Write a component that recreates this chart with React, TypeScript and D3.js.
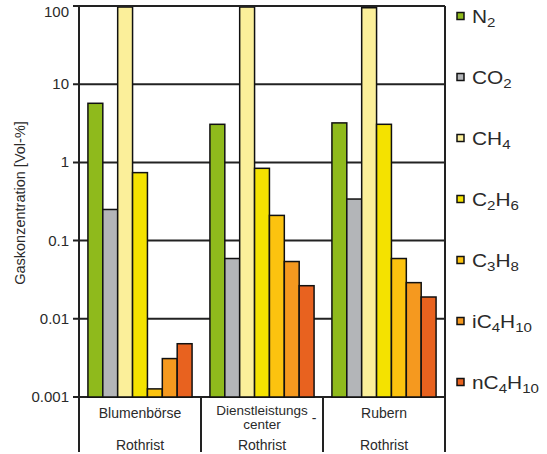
import * as d3 from 'd3';

const sites = ['Blumenbörse', 'Dienstleistungscenter', 'Rubern'];
const series = ['N2', 'CO2', 'CH4', 'C2H6', 'C3H8', 'iC4H10', 'nC4H10'];
const colors = ['#8fba1c', '#b3b5b8', '#fbef9a', '#f4e200', '#fcc30f', '#f5991f', '#e8621f'];

// values per site in the order of `series` (Vol-%)
const blumenboerse = [5.7, 0.25, 97, 0.74, 0.00127, 0.0031, 0.0048];
const dienstleistung = [3.07, 0.059, 97, 0.84, 0.21, 0.054, 0.0265];
const rubern = [3.2, 0.34, 95, 3.07, 0.059, 0.029, 0.019];
const values = [blumenboerse, dienstleistung, rubern];

const yTicks = [0.001, 0.01, 0.1, 1, 10, 100];
const tickLabels = ['0.001', '0.01', '0.1', '1', '10', '100'];

// legend labels: alternating normal text and subscript
const legendParts = [
  ['N', '2'],
  ['CO', '2'],
  ['CH', '4'],
  ['C', '2', 'H', '6'],
  ['C', '3', 'H', '8'],
  ['iC', '4', 'H', '10'],
  ['nC', '4', 'H', '10'],
];

const App = () => {
  const left = 79, right = 445, top = 6, bottom = 397;
  const x = d3.scaleBand().domain(sites).range([left, right]).padding(0);
  const xi = d3.scaleBand().domain(series).range([0, x.bandwidth()]).paddingInner(0).paddingOuter(0.6);
  const y = d3.scaleLog().domain([0.001, 100]).range([bottom, top]);
  const ink = '#222';
  const txt = '#2a2a2a';
  const font = 'Liberation Sans, Arial, sans-serif';

  return (
    <svg width={547} height={454} style={{ position: 'absolute', left: 0, top: 0 }} fontFamily={font}>
      <rect width={547} height={454} fill="#fff" />
      {/* grid */}
      {yTicks.map((t) => (
        <line key={t} x1={left - 6} x2={right} y1={y(t)} y2={y(t)} stroke={ink} strokeWidth={2} />
      ))}
      {/* bars */}
      {sites.map((s, gi) =>
        series.map((k, si) => {
          const v = values[gi][si];
          return (
            <rect
              key={s + k}
              x={(x(s) as number) + (xi(k) as number)}
              y={y(v)}
              width={xi.bandwidth()}
              height={bottom - y(v)}
              fill={colors[si]}
              stroke="#111"
              strokeWidth={1.5}
            />
          );
        })
      )}
      {/* frame */}
      <line x1={left} x2={left} y1={top} y2={452} stroke={ink} strokeWidth={2} />
      <line x1={right} x2={right} y1={top} y2={452} stroke={ink} strokeWidth={2} />
      <line x1={left} x2={right} y1={top} y2={top} stroke={ink} strokeWidth={2} />
      {sites.slice(1).map((s) => (
        <line key={s} x1={x(s)} x2={x(s)} y1={bottom} y2={452} stroke={ink} strokeWidth={2} />
      ))}
      {/* y tick labels */}
      {yTicks.map((t, i) => (
        <text key={t} x={left - 10} y={t === 100 ? 17 : y(t) + 5} textAnchor="end" fontSize={15} fill={txt}>
          {tickLabels[i]}
        </text>
      ))}
      <text
        transform={`translate(25, 203) rotate(-90)`}
        textAnchor="middle"
        fontSize={14.5}
        fill={txt}
      >
        Gaskonzentration [Vol-%]
      </text>
      {/* category labels */}
      {sites.map((s) => {
        const cx = (x(s) as number) + x.bandwidth() / 2;
        return (
          <g key={s} fontSize={14} fill={txt} textAnchor="middle">
            {s === 'Dienstleistungscenter' ? (
              <>
                <text x={cx} y={415} fontSize={13.5}>Dienstleistungs</text>
                <text x={cx} y={429} fontSize={13.5}>center</text>
                <text x={cx + 52} y={423}>-</text>
              </>
            ) : (
              <text x={cx} y={418}>{s}</text>
            )}
            <text x={cx} y={450}>Rothrist</text>
          </g>
        );
      })}
      {/* legend */}
      {series.map((k, i) => {
        const cy = 16 + i * 61;
        const parts = legendParts[i];
        const spans: any[] = [];
        parts.forEach((p, j) => {
          if (j % 2 === 0) {
            spans.push(<tspan key={j} dy={j === 0 ? 0 : -4}>{p}</tspan>);
          } else {
            spans.push(<tspan key={j} fontSize={13} dy={4}>{p}</tspan>);
          }
        });
        return (
          <g key={k}>
            <rect x={457} y={cy - 3.5} width={7} height={7} fill={colors[i]} stroke="#111" strokeWidth={1.5} />
            <text
              x={472}
              y={cy + 7}
              fontSize={18}
              fill={txt}
              transform={`translate(472 0) scale(1.16 1) translate(-472 0)`}
            >
              {spans}
            </text>
          </g>
        );
      })}
    </svg>
  );
};

export default App;
